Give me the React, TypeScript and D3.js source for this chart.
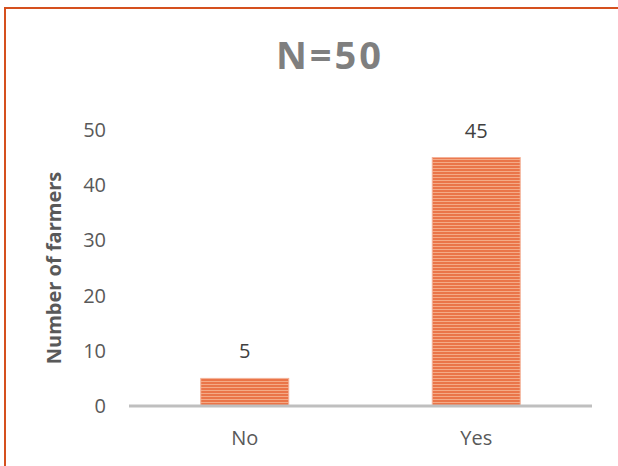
import React, { useEffect, useRef } from "react";
import * as d3 from "d3";

// chart data
const categories = ["No", "Yes"];
const farmerCounts = [5, 45];
const yTicks = [0, 10, 20, 30, 40, 50];
const chartTitle = "N=50";
const yAxisTitle = "Number of farmers";

const FarmersChart = () => {
  const chartRef = useRef<HTMLDivElement>(null);

  useEffect(() => {
    const width = 618;
    const height = 466;
    const margin = { top: 130, right: 26, bottom: 60, left: 129 };
    const font = "'Open Sans', 'DejaVu Sans', sans-serif";

    d3.select(chartRef.current).select("svg").remove();

    const svg = d3
      .select(chartRef.current)
      .append("svg")
      .attr("width", width)
      .attr("height", height)
      .style("display", "block");

    svg.append("rect").attr("width", width).attr("height", height).attr("fill", "white");

    // striped fill like the original
    const defs = svg.append("defs");
    const pattern = defs
      .append("pattern")
      .attr("id", "stripes")
      .attr("patternUnits", "userSpaceOnUse")
      .attr("width", 8)
      .attr("height", 3);
    pattern.append("rect").attr("width", 8).attr("height", 3).attr("fill", "#EA7549");
    pattern.append("rect").attr("y", 0).attr("width", 8).attr("height", 1).attr("fill", "#F4AA86");

    // outer frame
    svg
      .append("rect")
      .attr("x", 5)
      .attr("y", 8)
      .attr("width", width + 10)
      .attr("height", height + 10)
      .attr("fill", "none")
      .attr("stroke", "#D5501E")
      .attr("stroke-width", 2);

    const x = d3
      .scaleBand()
      .domain(categories)
      .range([margin.left, width - margin.right])
      .paddingInner(0.62)
      .paddingOuter(0.31);

    const y = d3
      .scaleLinear()
      .domain([0, 50])
      .range([height - margin.bottom, margin.top]);

    // title
    svg
      .append("text")
      .attr("x", 330)
      .attr("y", 69)
      .attr("text-anchor", "middle")
      .attr("font-family", font)
      .attr("font-weight", "bold")
      .attr("font-size", "38px")
      .attr("letter-spacing", "3px")
      .attr("fill", "#7F7F7F")
      .text(chartTitle);

    // y tick labels (no gridlines)
    svg
      .append("g")
      .selectAll("text")
      .data(yTicks)
      .enter()
      .append("text")
      .attr("x", 106)
      .attr("y", (d) => y(d))
      .attr("dy", "0.35em")
      .attr("text-anchor", "end")
      .attr("font-family", font)
      .attr("font-size", "20px")
      .attr("fill", "#595959")
      .text((d) => d);

    // y axis title
    svg
      .append("text")
      .attr("transform", `translate(61, ${(y(0) + y(50)) / 2 + 0}) rotate(-90)`)
      .attr("text-anchor", "middle")
      .attr("font-family", font)
      .attr("font-weight", "bold")
      .attr("font-size", "20px")
      .attr("fill", "#595959")
      .text(yAxisTitle);

    // bars
    svg
      .append("g")
      .selectAll("rect")
      .data(farmerCounts)
      .enter()
      .append("rect")
      .attr("x", (_, i) => x(categories[i]) as number)
      .attr("y", (d) => y(d))
      .attr("width", x.bandwidth())
      .attr("height", (d) => y(0) - y(d))
      .attr("fill", "url(#stripes)")
      .attr("stroke", "#F3B095")
      .attr("stroke-width", 1);

    // value labels
    svg
      .append("g")
      .selectAll("text")
      .data(farmerCounts)
      .enter()
      .append("text")
      .attr("x", (_, i) => (x(categories[i]) as number) + x.bandwidth() / 2)
      .attr("y", (d) => y(d) - 20)
      .attr("text-anchor", "middle")
      .attr("font-family", font)
      .attr("font-size", "20px")
      .attr("fill", "#404040")
      .text((d) => d);

    // baseline
    svg
      .append("line")
      .attr("x1", margin.left)
      .attr("x2", width - margin.right)
      .attr("y1", y(0))
      .attr("y2", y(0))
      .attr("stroke", "#BFBFBF")
      .attr("stroke-width", 3);

    // category labels
    svg
      .append("g")
      .selectAll("text")
      .data(categories)
      .enter()
      .append("text")
      .attr("x", (d) => (x(d) as number) + x.bandwidth() / 2)
      .attr("y", y(0) + 39)
      .attr("text-anchor", "middle")
      .attr("font-family", font)
      .attr("font-size", "20px")
      .attr("fill", "#595959")
      .text((d) => d);
  }, []);

  return (
    <div style={{ position: "absolute", top: 0, left: 0, width: 618, height: 466, overflow: "hidden" }}>
      <div ref={chartRef}></div>
    </div>
  );
};

export default function App() {
  return <FarmersChart />;
}
